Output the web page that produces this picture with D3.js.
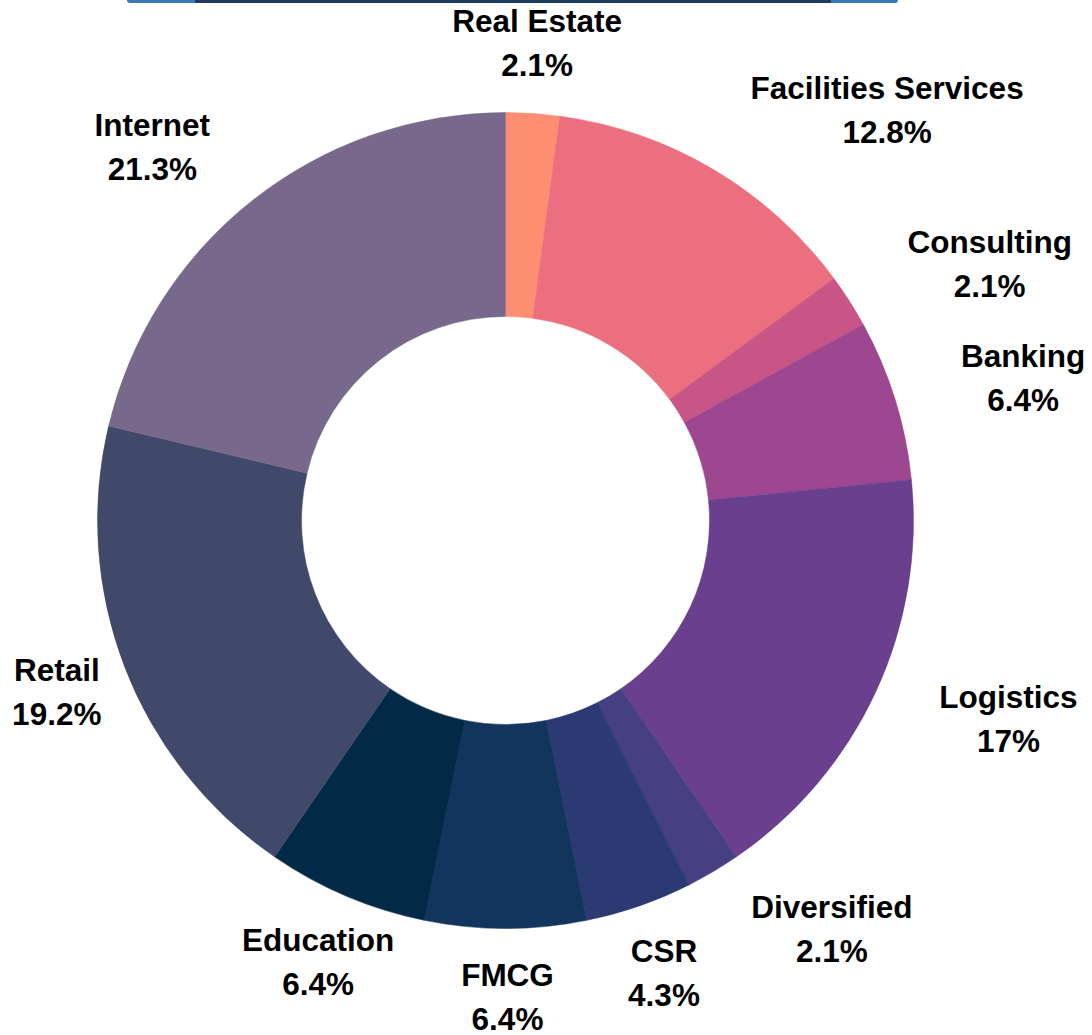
<!DOCTYPE html>
<html>
<head>
<meta charset="utf-8">
<script src="https://cdn.jsdelivr.net/npm/d3@7"></script>
<style>
  body { margin: 0; background: #fff; }
  .lbl { font-family: "Liberation Sans", Arial, sans-serif; font-weight: bold; font-size: 31.5px; fill: #000; }
</style>
</head>
<body>
<div id="chart"></div>
<script>
// sectors, clockwise from 12 o'clock (counts out of 47)
const categories = ["Real Estate", "Facilities Services", "Consulting", "Banking", "Logistics",
    "Diversified", "CSR", "FMCG", "Education", "Retail", "Internet"];
const counts = [1, 6, 1, 3, 8, 1, 2, 3, 3, 9, 10];
const percentLabels = ["2.1%", "12.8%", "2.1%", "6.4%", "17%", "2.1%", "4.3%", "6.4%", "6.4%", "19.2%", "21.3%"];
const colors = ["#fd8e72", "#eb6f7e", "#c95587", "#9d4790", "#6a3f8e", "#463f82",
    "#2b3a72", "#12345d", "#022a47", "#40496a", "#78688b"];

// hand tweaks so labels sit where the original put them
const labelNudge = {
    "Facilities Services": [80, 7], "Consulting": [37, 6], "Banking": [42, 0],
    "Logistics": [41, -3], "Diversified": [58, -7], "Education": [14, 0], "Internet": [-39, 11],
    "Real Estate": [-3, 0], "CSR": [4, 0], "FMCG": [2, 0]
};

const width = 1092, height = 1035;
const cx = 505.5, cy = 520.5, outerR = 408, innerR = 204;

const svg = d3.select("#chart").append("svg")
    .attr("width", width)
    .attr("height", height);

// cut-off bar at the very top of the frame
const topBar = svg.append("g");
topBar.append("rect").attr("x", 127).attr("y", -6).attr("width", 771).attr("height", 9)
    .attr("rx", 3).attr("fill", "#3b78b6");
topBar.append("rect").attr("x", 195).attr("y", -6).attr("width", 636).attr("height", 9)
    .attr("fill", "#1d3b5f");

const pie = d3.pie().sort(null).value(d => d);
const arcs = pie(counts);

const arc = d3.arc().innerRadius(innerR).outerRadius(outerR);

const g = svg.append("g")
    .attr("transform", "translate(" + cx + "," + cy + ")");

g.selectAll(".slice")
    .data(arcs)
    .enter()
    .append("path")
    .attr("class", "slice")
    .attr("d", arc)
    .attr("fill", (d, i) => colors[i])
    .attr("stroke", (d, i) => colors[i])
    .attr("stroke-width", 0.5);

// labels: anchored at outer edge, pushed outward by box size + offset
const lineGap = 44, offset = 25;
const labels = g.selectAll(".lbl")
    .data(arcs)
    .enter()
    .append("text")
    .attr("class", "lbl")
    .attr("text-anchor", "middle");

labels.append("tspan").attr("x", 0).attr("dy", 0).text((d, i) => categories[i]);
labels.append("tspan").attr("x", 0).attr("dy", lineGap).text((d, i) => percentLabels[i]);

labels.each(function(d, i) {
    const t = d3.select(this);
    const w = this.getBBox().width;
    const h = lineGap * 2;
    const a = (d.startAngle + d.endAngle) / 2;
    const vx = Math.sin(a), vy = -Math.cos(a);
    const m = Math.max(Math.abs(vx), Math.abs(vy));
    const ax = outerR * vx, ay = outerR * vy;
    let x = ax + (w / 2) * vx / m + offset * vx;
    let y = ay + (h / 2) * vy / m + offset * vy;
    const n = labelNudge[categories[i]] || [0, 0];
    x += n[0]; y += n[1];
    // y is the block centre; first baseline sits ~12px above it
    t.attr("transform", "translate(" + x + "," + (y - 12) + ")");
});
</script>
</body>
</html>
